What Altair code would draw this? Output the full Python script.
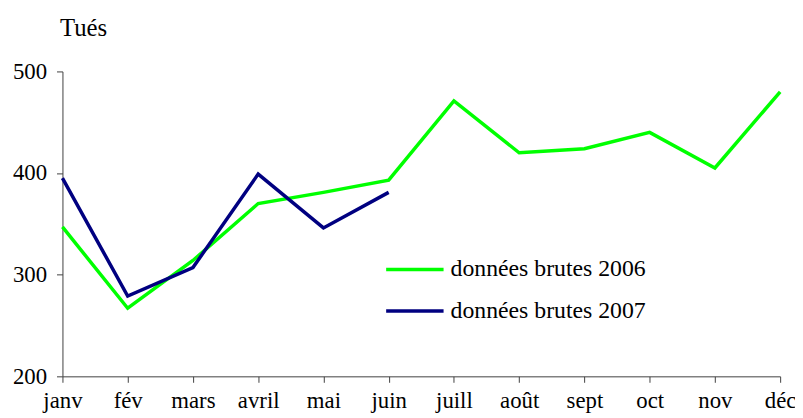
import altair as alt
import pandas as pd

months = ["janv", "fév", "mars", "avril", "mai", "juin",
          "juill", "août", "sept", "oct", "nov", "déc"]
serie_2006 = [347, 267, 314, 370, 381, 393, 471, 420, 424, 440, 405, 480]
serie_2007 = [395, 279, 307, 399, 346, 381]
labels = ["données brutes 2006", "données brutes 2007"]
colors = ["#00FF00", "#000080"]
y_ticks = [200, 300, 400, 500]

rows = []
for m, v in zip(months, serie_2006):
    rows.append({"mois": m, "valeur": v, "serie": labels[0]})
for m, v in zip(months, serie_2007):
    rows.append({"mois": m, "valeur": v, "serie": labels[1]})
df = pd.DataFrame(rows)

FONT = "Liberation Serif"
FS = 23
AX = "#404040"

chart = alt.Chart(df).mark_line(strokeWidth=3.5).encode(
    x=alt.X("mois:N", sort=months,
            scale=alt.Scale(type="point", padding=0),
            axis=alt.Axis(title=None, labelAngle=0, labelFont=FONT, labelFontSize=FS,
                          labelColor="black", domainColor=AX, tickColor=AX,
                          labelBaseline="alphabetic",
                          tickSize=6, labelPadding=25, grid=False)),
    y=alt.Y("valeur:Q",
            scale=alt.Scale(domain=[200, 500], nice=False, zero=False),
            axis=alt.Axis(values=y_ticks, grid=False, title="Tués", titleAngle=0,
                          titleFont=FONT, titleFontSize=25, titleFontWeight="normal",
                          titleColor="black", titleAlign="left", titleBaseline="alphabetic",
                          titleX=-3, titleY=-36,
                          labelFont=FONT, labelFontSize=FS, labelColor="black",
                          domainColor=AX, tickColor=AX, tickSize=6, labelPadding=10)),
    color=alt.Color("serie:N",
                    scale=alt.Scale(domain=labels, range=colors),
                    legend=alt.Legend(title=None, orient="none", legendX=325, legendY=190,
                                      symbolType="stroke", symbolSize=3364,
                                      symbolStrokeWidth=3.5, clipHeight=20, rowPadding=18,
                                      labelOffset=5, labelFont=FONT, labelFontSize=24,
                                      labelLimit=400,
                                      labelColor="black", padding=0)),
).properties(
    width=725, height=308,
    background="white",
    autosize=alt.AutoSizeParams(type="none"),
    padding={"left": 55, "top": 62, "right": 15, "bottom": 40},
).configure_view(stroke=None, strokeWidth=0)

chart.save("out.html", embed_options={"renderer": "svg", "actions": False})
